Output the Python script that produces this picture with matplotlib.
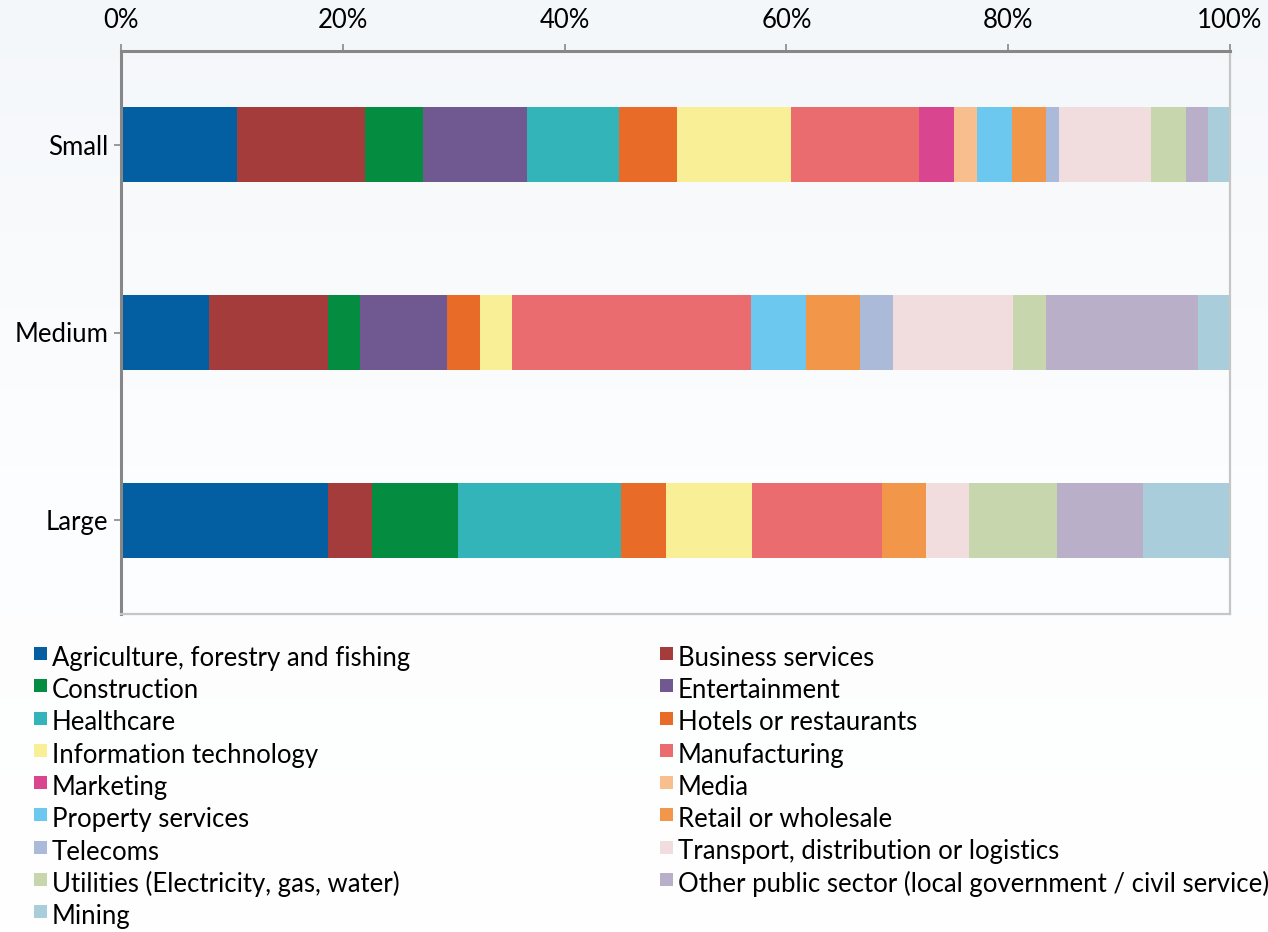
import numpy as np
import matplotlib
matplotlib.use('Agg')
import matplotlib.pyplot as plt
from matplotlib.patches import Rectangle

plt.rcParams['font.family'] = ['Lato', 'DejaVu Sans']

# Company size categories (top to bottom)
categories = ["Small", "Medium", "Large"]

sectors = [
    "Agriculture, forestry and fishing", "Business services",
    "Construction", "Entertainment",
    "Healthcare", "Hotels or restaurants",
    "Information technology", "Manufacturing",
    "Marketing", "Media",
    "Property services", "Retail or wholesale",
    "Telecoms", "Transport, distribution or logistics",
    "Utilities (Electricity, gas, water)",
    "Other public sector (local government / civil service)",
    "Mining",
]

colors = [
    "#035ea2", "#a33c3a", "#048c40", "#6f5990", "#33b4b9", "#e86b27",
    "#f9ef96", "#eb6c6f", "#d9458e", "#f8be8d", "#6cc8ee", "#f2964a",
    "#abbad8", "#f1dddd", "#c8d6ae", "#b9afc9", "#a9cddb",
]

# share (%) of each sector
small = [10.5, 11.5, 5.2, 9.4, 8.3, 5.2, 10.3, 11.6, 3.1, 2.1, 3.1, 3.1, 1.2, 8.3, 3.1, 2.0, 2.0]
medium = [7.9, 10.8, 2.9, 7.8, 0.0, 3.0, 2.9, 21.6, 0.0, 0.0, 4.9, 4.9, 3.0, 10.8, 3.0, 13.7, 2.9]
large = [18.7, 3.9, 7.8, 0.0, 14.7, 4.0, 7.8, 11.7, 0.0, 0.0, 0.0, 4.0, 0.0, 3.9, 7.9, 7.8, 7.8]

data = np.array([small, medium, large])
data = data / data.sum(axis=1, keepdims=True) * 100

W, H = 1268, 932
fig = plt.figure(figsize=(W / 100, H / 100), dpi=100)
fig.patch.set_facecolor("white")

# faint background wash at the top
bg = fig.add_axes([0, 0, 1, 1], zorder=-10)
grad = np.linspace(0, 1, 256).reshape(-1, 1)
bg.imshow(grad, aspect="auto", cmap=matplotlib.colors.LinearSegmentedColormap.from_list(
    "wash", ["#f4f7fa", "#fcfdfe", "#ffffff"]), extent=[0, 1, 0, 1])
bg.axis("off")

ax = fig.add_axes([121 / W, 1 - 614 / H, (1230 - 121) / W, (614 - 51) / H])
ax.set_facecolor("none")

y = np.arange(len(categories))
left = np.zeros(len(categories))
for i, name in enumerate(sectors):
    ax.barh(y, data[:, i], left=left, height=0.4, color=colors[i], linewidth=0)
    left += data[:, i]

ax.set_xlim(0, 100)
ax.set_ylim(2.5, -0.5)
ax.set_yticks(y)
ax.set_yticklabels(categories)
ax.set_xticks(np.arange(0, 101, 20))
ax.set_xticklabels([f"{v}%" for v in range(0, 101, 20)])
ax.xaxis.tick_top()
ax.tick_params(axis="x", which="both", direction="out", length=5, width=1.2,
               color="#888888", labelsize=18.5, pad=8)
ax.tick_params(axis="y", direction="out", length=5, width=1.2,
               color="#888888", labelsize=18.5, pad=4)

for s in ["top", "left"]:
    ax.spines[s].set_color("#878787")
    ax.spines[s].set_linewidth(2.2)
for s in ["bottom", "right"]:
    ax.spines[s].set_color("#c6c6c6")
    ax.spines[s].set_linewidth(1.6)

# legend in two columns, row-wise order
for i, name in enumerate(sectors):
    row, col = divmod(i, 2)
    x0 = 34 if col == 0 else 660
    base = 666 + row * 32.25
    fig.add_artist(Rectangle((x0 / W, 1 - 660 / H - row * 32.25 / H), 13 / W, 13 / H,
                             transform=fig.transFigure, color=colors[i], linewidth=0))
    fig.text((x0 + 18) / W, 1 - base / H, name, fontsize=18.5, va="baseline", ha="left")

fig.savefig("out.png", dpi=100)
